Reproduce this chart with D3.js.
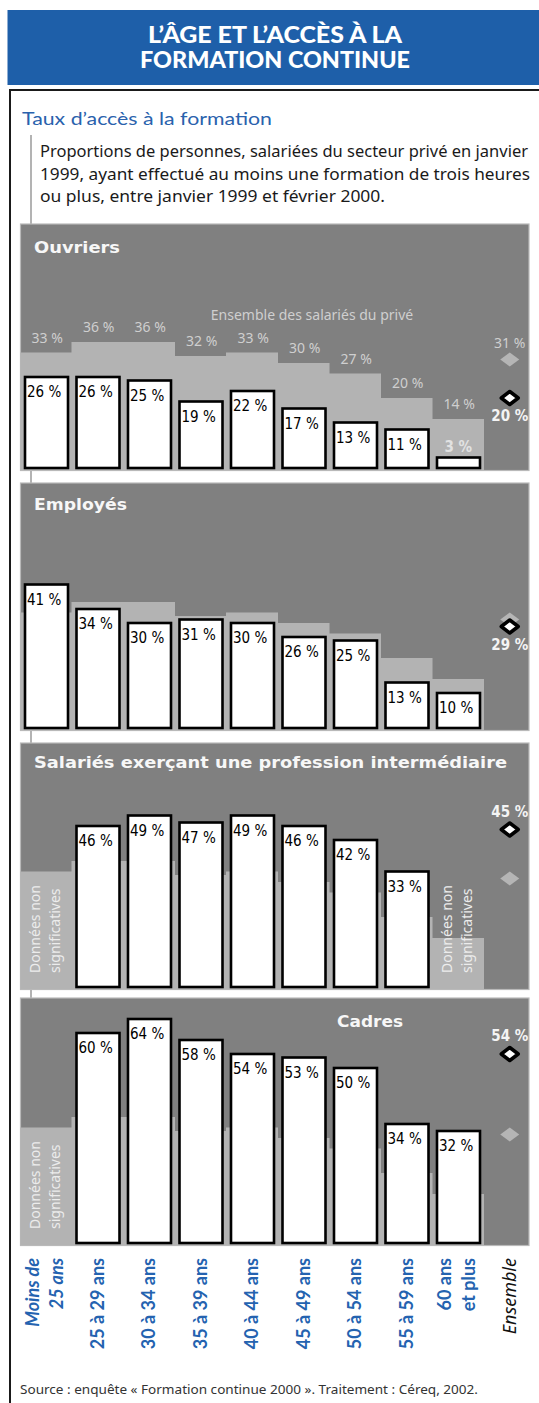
<!DOCTYPE html>
<html>
<head>
<meta charset="utf-8">
<script src="https://cdn.jsdelivr.net/npm/d3@7"></script>
<style>
  body { margin: 0; background: #fff; }
  svg { display: block; }
</style>
</head>
<body>
<script>
// Data
const ages = ['Moins de 25 ans', '25 à 29 ans', '30 à 34 ans', '35 à 39 ans', '40 à 44 ans',
  '45 à 49 ans', '50 à 54 ans', '55 à 59 ans', '60 ans et plus', 'Ensemble'];
const ageLines = [['Moins de', '25 ans'], ['25 à 29 ans'], ['30 à 34 ans'], ['35 à 39 ans'], ['40 à 44 ans'],
  ['45 à 49 ans'], ['50 à 54 ans'], ['55 à 59 ans'], ['60 ans', 'et plus'], ['Ensemble']];

// "Ensemble des salariés du privé" (light grey steps)
const prive = [33, 36, 36, 32, 33, 30, 27, 20, 14];
const priveTotal = 31;

const ouvriers = [26, 26, 25, 19, 22, 17, 13, 11, 3];
const ouvriersTotal = 20;
const employes = [41, 34, 30, 31, 30, 26, 25, 13, 10];
const employesTotal = 29;
const intermediaires = [null, 46, 49, 47, 49, 46, 42, 33, null];
const intermediairesTotal = 45;
const cadres = [null, 60, 64, 58, 54, 53, 50, 34, 32];
const cadresTotal = 54;

const pct = v => v + ' %';

// Canvas
const svg = d3.select('body')
  .append('svg')
  .attr('width', 539)
  .attr('height', 1403);

function fit(sel, w) {
  return sel.attr('textLength', w).attr('lengthAdjust', 'spacingAndGlyphs');
}

// Header
svg.append('rect')
  .attr('x', 7.5).attr('y', 10)
  .attr('width', 532).attr('height', 75)
  .attr('fill', '#1e5fa9');

const headTitle = [['L\u2019ÂGE ET L\u2019ACCÈS À LA', 43, 254], ['FORMATION CONTINUE', 68, 270]];
headTitle.forEach(([t, y, w]) => {
  fit(svg.append('text')
    .attr('x', 275).attr('y', y)
    .attr('text-anchor', 'middle')
    .style('font-family', 'Lato, "DejaVu Sans", sans-serif')
    .style('font-weight', 900)
    .style('font-size', '22px')
    .attr('fill', '#fff')
    .text(t), w);
});

// Frame
svg.append('path')
  .attr('d', 'M10,1403V90H539')
  .attr('fill', 'none')
  .attr('stroke', '#1a1a1a')
  .attr('stroke-width', 2);

svg.append('line')
  .attr('x1', 31).attr('x2', 31)
  .attr('y1', 135).attr('y2', 1000)
  .attr('stroke', '#9a9a9a')
  .attr('stroke-width', 1.5);

fit(svg.append('text')
  .attr('x', 22).attr('y', 125)
  .style('font-family', 'Lato, "Noto Sans", sans-serif')
  .style('font-size', '18px')
  .attr('fill', '#2a62ad')
  .text('Taux d\u2019accès à la formation'), 250);

const desc = [
  ['Proportions de personnes, salariées du secteur privé en janvier', 157, 488],
  ['1999, ayant effectué au moins une formation de trois heures', 180, 490],
  ['ou plus, entre janvier 1999 et février 2000.', 202, 345]
];
desc.forEach(([t, y, w]) => {
  fit(svg.append('text')
    .attr('x', 40).attr('y', y)
    .style('font-family', '"Noto Sans", sans-serif')
    .style('font-size', '16px')
    .attr('fill', '#1a1a1a')
    .text(t), w);
});

// Scales
const x = d3.scaleBand()
  .domain(ages)
  .range([20.5, 535.5])
  .padding(0);
const step = x.bandwidth();
const barInset = 4.5;
const barW = step - 8.5;
const cx = d => x(d) + step / 2;

const panels = [
  { title: 'Ouvriers', values: ouvriers, total: ouvriersTotal, top: 224, base: 468,
    tx: 34, ty: 253, tw: 86, totalPos: 'below', stepLabels: true },
  { title: 'Employés', values: employes, total: employesTotal, top: 483, base: 728,
    tx: 34, ty: 510, tw: 93, totalPos: 'below' },
  { title: 'Salariés exerçant une profession intermédiaire', values: intermediaires, total: intermediairesTotal,
    top: 743, base: 987, tx: 34, ty: 768, tw: 473, totalPos: 'above' },
  { title: 'Cadres', values: cadres, total: cadresTotal, top: 998, base: 1243,
    tx: 337, ty: 1027, tw: 66, totalPos: 'above' }
];

const diamond = (hw, hh) => `M${-hw},0L0,${-hh}L${hw},0L0,${hh}Z`;

panels.forEach(p => {
  const y = d3.scaleLinear().domain([0, 70]).range([p.base, p.base - 245]);
  const g = svg.append('g');

  // background
  g.append('rect')
    .attr('x', 20.5).attr('y', p.top)
    .attr('width', 508.5).attr('height', p.base - p.top + 2.5)
    .attr('fill', '#808080')
    .attr('stroke', '#b9b9b9')
    .attr('stroke-width', 1.2);

  // steps: all private-sector employees
  g.selectAll('.step')
    .data(prive)
    .enter()
    .append('rect')
    .attr('class', 'step')
    .attr('x', (d, i) => x(ages[i]) - (i === 0 ? 0 : 0.5))
    .attr('y', d => y(d))
    .attr('width', (d, i) => step + (i === 0 ? 0 : 0.5))
    .attr('height', d => p.base + 2 - y(d))
    .attr('fill', '#b3b3b3');

  if (p.stepLabels) {
    g.selectAll('.step-label')
      .data(prive)
      .enter()
      .append('text')
      .attr('x', (d, i) => cx(ages[i]) + 1)
      .attr('y', d => y(d) - 10)
      .attr('text-anchor', 'middle')
      .style('font-family', '"Noto Sans", sans-serif')
      .style('font-size', '14px')
      .attr('fill', '#cfcfcf')
      .text(pct);

    g.append('text')
      .attr('x', 312).attr('y', 320)
      .attr('text-anchor', 'middle')
      .style('font-family', '"Noto Sans", sans-serif')
      .style('font-size', '14px')
      .attr('fill', '#cfcfcf')
      .text('Ensemble des salariés du privé');

    g.append('text')
      .attr('x', cx('Ensemble')).attr('y', y(priveTotal) - 12)
      .attr('text-anchor', 'middle')
      .style('font-family', '"Noto Sans", sans-serif')
      .style('font-size', '14px')
      .attr('fill', '#cfcfcf')
      .text(pct(priveTotal));
  }

  // title
  fit(g.append('text')
    .attr('x', p.tx).attr('y', p.ty)
    .style('font-family', '"DejaVu Sans", sans-serif')
    .style('font-weight', 'bold')
    .style('font-size', '16px')
    .attr('fill', '#f7f7f7')
    .text(p.title), p.tw);

  // bars
  const bars = p.values.map((v, i) => ({ v, i })).filter(d => d.v !== null);
  g.selectAll('.bar')
    .data(bars)
    .enter()
    .append('rect')
    .attr('class', 'bar')
    .attr('x', d => x(ages[d.i]) + barInset)
    .attr('y', d => y(d.v))
    .attr('width', barW)
    .attr('height', d => y(0) - y(d.v))
    .attr('fill', '#fff')
    .attr('stroke', '#000')
    .attr('stroke-width', 2.6);

  g.selectAll('.bar-label')
    .data(bars)
    .enter()
    .append('text')
    .attr('x', d => d.v < 8 ? cx(ages[d.i]) : x(ages[d.i]) + barInset + 2)
    .attr('y', d => d.v < 8 ? y(d.v) - 6 : y(d.v) + 20)
    .attr('text-anchor', d => d.v < 8 ? 'middle' : 'start')
    .style('font-family', '"DejaVu Sans Condensed", "DejaVu Sans", sans-serif')
    .style('font-stretch', 'condensed')
    .style('font-weight', d => d.v < 8 ? 'bold' : 'normal')
    .style('font-size', '15px')
    .attr('fill', d => d.v < 8 ? '#e2e2e2' : '#000')
    .text(d => pct(d.v));

  // "Données non significatives"
  p.values.forEach((v, i) => {
    if (v !== null) return;
    ['Données non', 'significatives'].forEach((t, j) => {
      g.append('text')
        .attr('transform', `translate(${x(ages[i]) + 19 + j * 20},${p.base - 14}) rotate(-90)`)
        .style('font-family', '"Noto Sans", sans-serif')
        .style('font-size', '14px')
        .attr('fill', '#ececec')
        .text(t);
    });
  });

  // Ensemble markers
  const ex = cx('Ensemble');
  g.append('path')
    .attr('d', diamond(9.5, 7))
    .attr('transform', `translate(${ex},${y(priveTotal)})`)
    .attr('fill', '#b5b5b5');

  g.append('path')
    .attr('d', diamond(8.5, 6.5))
    .attr('transform', `translate(${ex},${y(p.total)})`)
    .attr('fill', '#fff')
    .attr('stroke', '#000')
    .attr('stroke-width', 3.5)
    .attr('stroke-linejoin', 'round');

  g.append('text')
    .attr('x', ex)
    .attr('y', p.totalPos === 'below' ? y(p.total) + 23 : y(p.total) - 13)
    .attr('text-anchor', 'middle')
    .style('font-family', '"DejaVu Sans Condensed", "DejaVu Sans", sans-serif')
    .style('font-stretch', 'condensed')
    .style('font-weight', 'bold')
    .style('font-size', '15px')
    .attr('fill', '#f4f4f4')
    .text(pct(p.total));
});

// Age axis (rotated labels)
const axis = svg.append('g')
  .attr('transform', 'translate(0,1258)')
  .call(d3.axisBottom(x).tickSize(0).tickFormat(''));
axis.select('.domain').remove();

axis.selectAll('.tick').each(function(d, i) {
  const tick = d3.select(this);
  tick.select('text').remove();
  const lines = ageLines[i];
  const last = i === ages.length - 1;
  lines.forEach((t, j) => {
    const off = lines.length === 1 ? 6 : (j === 0 ? -7 : 17);
    tick.append('text')
      .attr('transform', `translate(${off},0) rotate(-90)`)
      .attr('text-anchor', 'end')
      .style('font-family', last ? '"Noto Sans", sans-serif' : 'Lato, "Noto Sans", sans-serif')
      .style('font-size', '18px')
      .style('font-weight', last ? 'normal' : 'bold')
      .style('font-style', (last || i === 0) ? 'italic' : 'normal')
      .attr('fill', last ? '#111' : '#2463b0')
      .text(t);
  });
});

// Source
fit(svg.append('text')
  .attr('x', 20).attr('y', 1394)
  .style('font-family', '"Noto Sans", sans-serif')
  .style('font-size', '13px')
  .attr('fill', '#333')
  .text('Source : enquête « Formation continue 2000 ». Traitement : Céreq, 2002.'), 458);
</script>
</body>
</html>
